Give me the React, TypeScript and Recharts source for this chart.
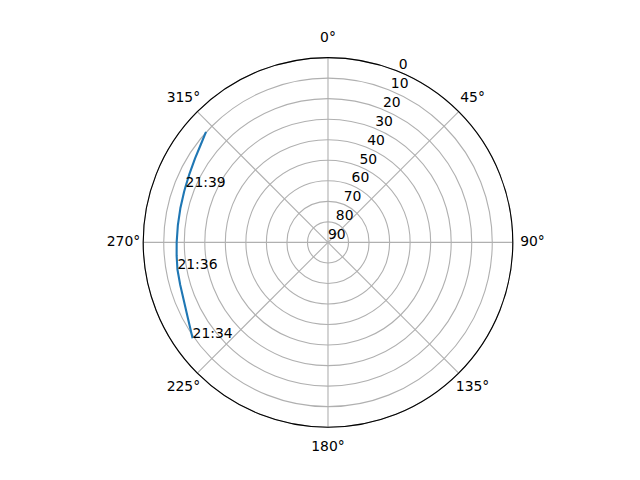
import {
  RadarChart,
  Radar,
  PolarGrid,
  PolarAngleAxis,
  PolarRadiusAxis,
} from 'recharts';

// Satellite pass sky track: azimuth clockwise from north, elevation in degrees
const azimuths = [234.7, 241.5, 247.6, 253.9, 259.8, 265.0, 270.0, 276.6, 283.0, 289.4, 291.4, 295.9, 302.3, 307.4, 312.2];
const elevations = [9.2, 12.4, 14.2, 15.1, 15.5, 16.0, 16.3, 16.4, 16.2, 15.7, 15.5, 14.8, 13.4, 11.9, 9.8];
const timeLabels = ['21:34', '', '', '', '21:36', '', '', '', '', '', '21:39', '', '', '', ''];

const azimuthTicks = [0, 45, 90, 135, 180, 225, 270, 315];
const elevationTicks = [0, 10, 20, 30, 40, 50, 60, 70, 80, 90];

const FONT = 'DejaVu Sans, sans-serif';

const passData = azimuths.map((az, i) => ({ az, el: elevations[i], time: timeLabels[i] }));

const AngleTick = ({ x, y, payload }: any) => {
  if (payload.value >= 360) return null;
  return (
    <text
      x={x}
      y={y - 1.2}
      textAnchor="middle"
      dominantBaseline="central"
      fontFamily={FONT}
      fontSize={13.9}
      fill="#000"
    >
      {`${payload.value}°`}
    </text>
  );
};

const RadiusTick = ({ x, y, payload }: any) => (
  <text x={x} y={y - 3} textAnchor="start" fontFamily={FONT} fontSize={13.9} fill="#000">
    {payload.value}
  </text>
);

// open line through the radar points (the default shape closes the polygon)
const TrackShape = (props: any) => {
  const pts = (props.points || []).filter((p: any) => Number.isFinite(p.x) && Number.isFinite(p.y));
  if (!pts.length) return null;
  const d = pts.map((p: any, i: number) => `${i === 0 ? 'M' : 'L'}${p.x},${p.y}`).join('');
  return <path d={d} fill="none" stroke="#1f77b4" strokeWidth={2.1} strokeLinejoin="round" />;
};

const TimeLabel = (props: any) => {
  const row = props.payload?.payload ?? props.payload;
  if (!row || !row.time || !Number.isFinite(props.cx)) return <g key={`t-${props.index}`} />;
  return (
    <text
      key={`t-${props.index}`}
      x={props.cx}
      y={props.cy}
      textAnchor="start"
      fontFamily={FONT}
      fontSize={13.9}
      fill="#000"
    >
      {row.time}
    </text>
  );
};

const App = () => {
  return (
    <div style={{ position: 'absolute', left: 0, top: 0, width: 640, height: 480, background: '#fff' }}>
      <RadarChart
        width={640}
        height={480}
        data={passData}
        cx={328}
        cy={242.4}
        outerRadius={184.8}
        startAngle={90}
        endAngle={-270}
        margin={{ top: 0, right: 0, bottom: 0, left: 0 }}
      >
        <PolarGrid gridType="circle" stroke="#b0b0b0" strokeWidth={1.1} />
        <PolarAngleAxis
          dataKey="az"
          type="number"
          domain={[0, 360]}
          ticks={azimuthTicks as any}
          tickCount={9}
          axisLineType="circle"
          axisLine={{ stroke: '#000', strokeWidth: 1.1 }}
          tickLine={false}
          tickSize={19.7}
          tick={<AngleTick />}
        />
        <PolarRadiusAxis
          angle={67.5}
          type="number"
          domain={[0, 90]}
          ticks={elevationTicks as any}
          tickCount={10}
          reversed
          axisLine={false}
          tickLine={false}
          tick={<RadiusTick />}
        />
        <Radar
          dataKey="el"
          stroke="#1f77b4"
          strokeWidth={2.1}
          fill="none"
          fillOpacity={0}
          shape={TrackShape}
          dot={TimeLabel}
          isAnimationActive={false}
        />
      </RadarChart>
    </div>
  );
};

export default App;
